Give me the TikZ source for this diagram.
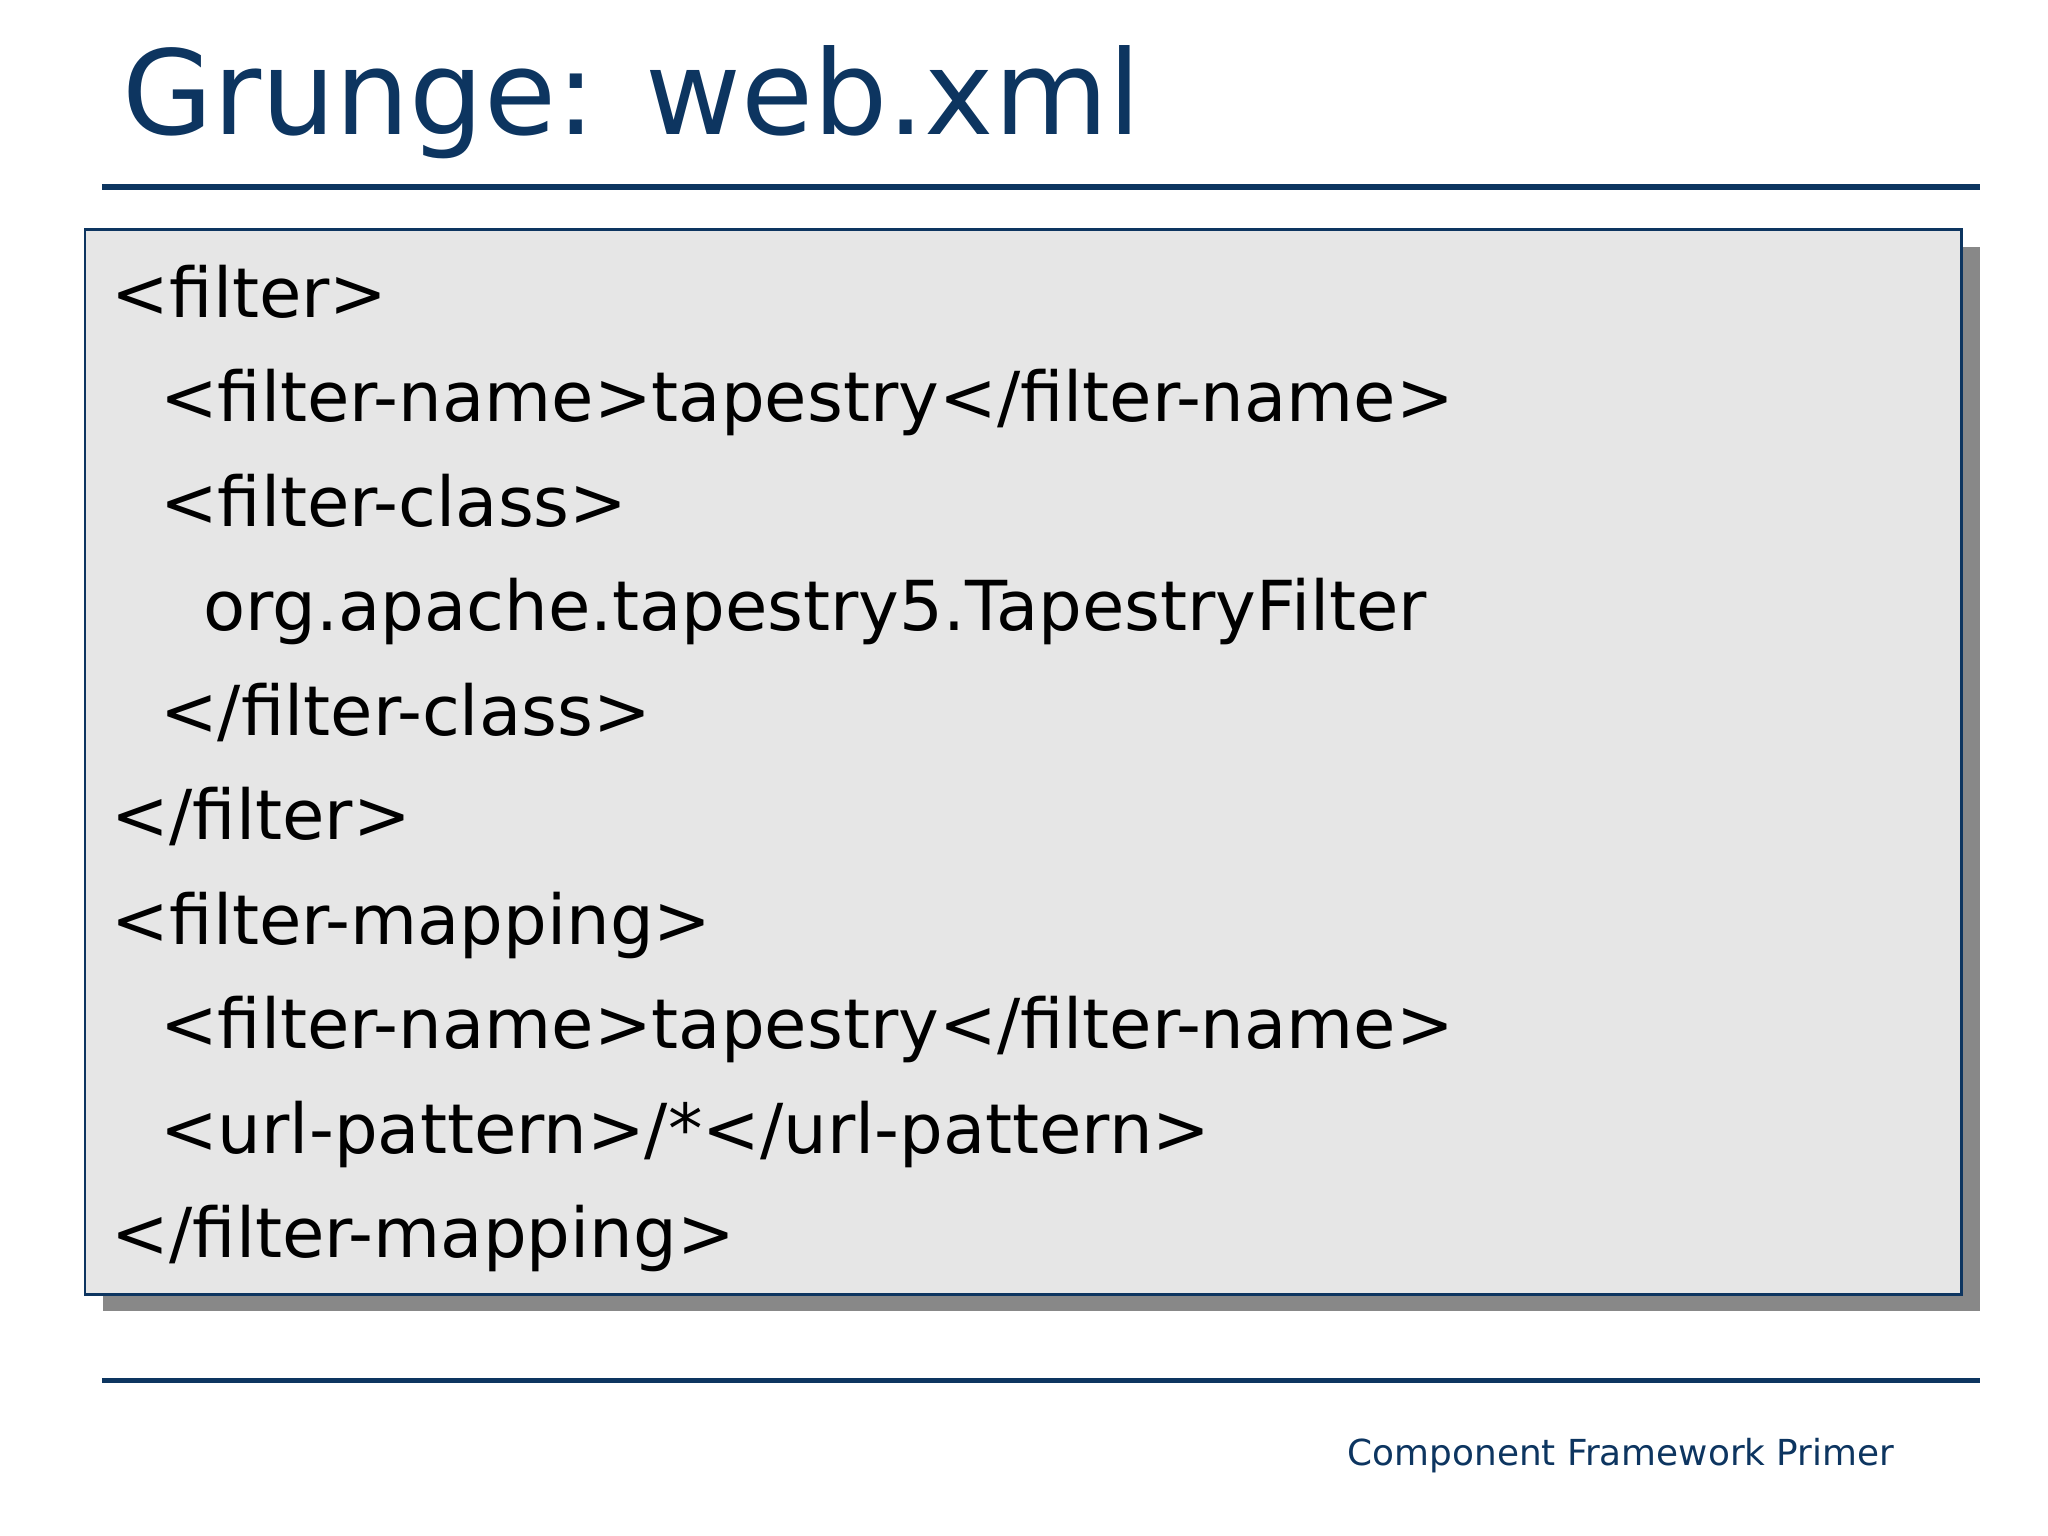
\documentclass[tikz,border=0pt]{standalone}
\usepackage{fontspec}
\setmainfont{DejaVu Sans}
\definecolor{navy}{HTML}{0D3560}
\definecolor{boxfill}{HTML}{E6E6E6}
\definecolor{shadowgray}{HTML}{888888}
\tikzset{codeline/.style={anchor=base west,inner sep=0pt,font=\fontsize{15}{16}\selectfont},
rule/.style={navy,line width=1.2pt}}
\begin{document}
\begin{tikzpicture}[x=0.01cm,y=-0.01cm]
\useasboundingbox (0,0) rectangle (1568,1176);
\node[anchor=base west,inner sep=0pt,text=navy,font=\fontsize{25.5}{30}\selectfont] (title) at (93,103) {Grunge: web.xml};
\draw[rule] (78,143) -- (1516,143);
\fill[shadowgray] (79,189) rectangle (1516,1004);
\draw[navy,fill=boxfill,line width=0.6pt] (65,176) rectangle (1502,991);
\node[codeline] (l1) at (85,243) {<filter>};
\node[codeline] (l2) at (122,323) {<filter-name>tapestry</filter-name>};
\node[codeline] (l3) at (122,403) {<filter-class>};
\node[codeline] (l4) at (155,483) {org.apache.tapestry5.TapestryFilter};
\node[codeline] (l5) at (122,563) {</filter-class>};
\node[codeline] (l6) at (85,643) {</filter>};
\node[codeline] (l7) at (85,723) {<filter-mapping>};
\node[codeline] (l8) at (122,803) {<filter-name>tapestry</filter-name>};
\node[codeline] (l9) at (122,883) {<url-pattern>/*</url-pattern>};
\node[codeline] (l10) at (85,963) {</filter-mapping>};
\draw[rule] (78,1057) -- (1516,1057);
\node[anchor=base east,inner sep=0pt,text=navy,font=\fontsize{7.8}{10}\selectfont] (foot) at (1451,1122) {Component Framework Primer};
\end{tikzpicture}
\end{document}
